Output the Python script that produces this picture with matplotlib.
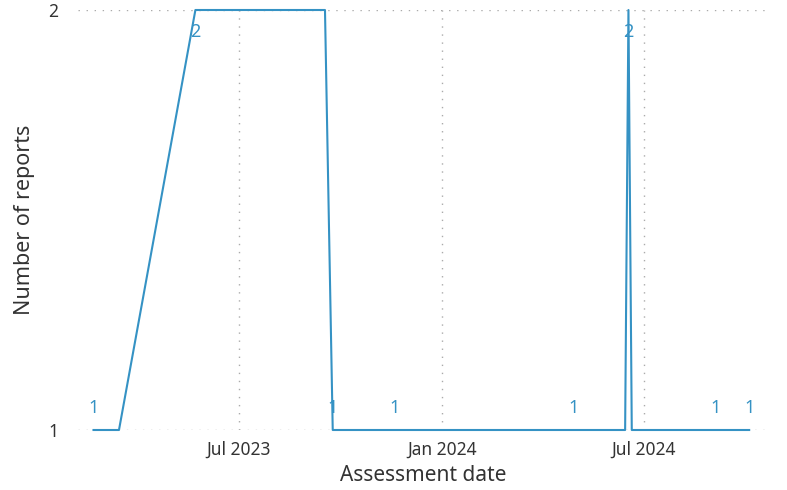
import pandas as pd
import matplotlib.pyplot as plt

plt.rcParams["font.family"] = ["Noto Sans", "DejaVu Sans"]

# Reports per assessment date
dates = ["2023-02-20", "2023-03-15", "2023-05-23", "2023-09-17", "2023-09-24",
         "2023-11-19", "2024-04-28", "2024-06-14", "2024-06-17", "2024-06-20",
         "2024-09-04", "2024-10-04"]
reports = [1, 1, 2, 2, 1, 1, 1, 1, 2, 1, 1, 1]
# which points show a data label
show_label = [True, False, True, False, True, True, True, False, True, False, True, True]

x_start, x_end = "2023-02-06", "2024-10-21"
tick_dates = ["2023-07-01", "2024-01-01", "2024-07-01"]
tick_labels = ["Jul 2023", "Jan 2024", "Jul 2024"]

df = pd.DataFrame({"date": pd.to_datetime(dates), "reports": reports, "label": show_label})

line_col = "#3592C4"
grid_col = "#ABABAB"
text_col = "#333333"

fig = plt.figure(figsize=(7.87, 4.90), dpi=100)
ax = fig.add_axes([78 / 787, 1 - 430 / 490, 690 / 787, 420 / 490])

ax.plot(df["date"], df["reports"], color=line_col, linewidth=1.5, clip_on=False, zorder=3)

# data labels: above the point for 1, below for 2
for d, v, lab in zip(df["date"], df["reports"], df["label"]):
    if not lab:
        continue
    off = -16 if v == 2 else 15.5
    ax.annotate(str(v), (d, v), xytext=(0, off), textcoords="offset points",
                ha="center", va="center", fontsize=13, color=line_col, zorder=4)

ax.set_xlim(pd.Timestamp(x_start), pd.Timestamp(x_end))
ax.set_ylim(1, 2)
ax.set_yticks([1, 2])
ax.set_yticklabels(["1", "2"])
ax.set_xticks(pd.to_datetime(tick_dates))
ax.set_xticklabels(tick_labels)

# dotted grid in the Power BI style
ax.grid(True, linestyle=(0, (1, 4.8)), color=grid_col, linewidth=1.0)
ax.set_axisbelow(True)
for s in ax.spines.values():
    s.set_visible(False)
ax.tick_params(length=0, colors=text_col)
ax.tick_params(axis="y", pad=14, labelsize=12.5)
ax.tick_params(axis="x", pad=8, labelsize=12.5)

ax.set_xlabel("Assessment date", fontsize=15, color=text_col, labelpad=4)
ax.set_ylabel("Number of reports", fontsize=15.5, color=text_col, labelpad=10)

fig.savefig("out.png", dpi=100)
